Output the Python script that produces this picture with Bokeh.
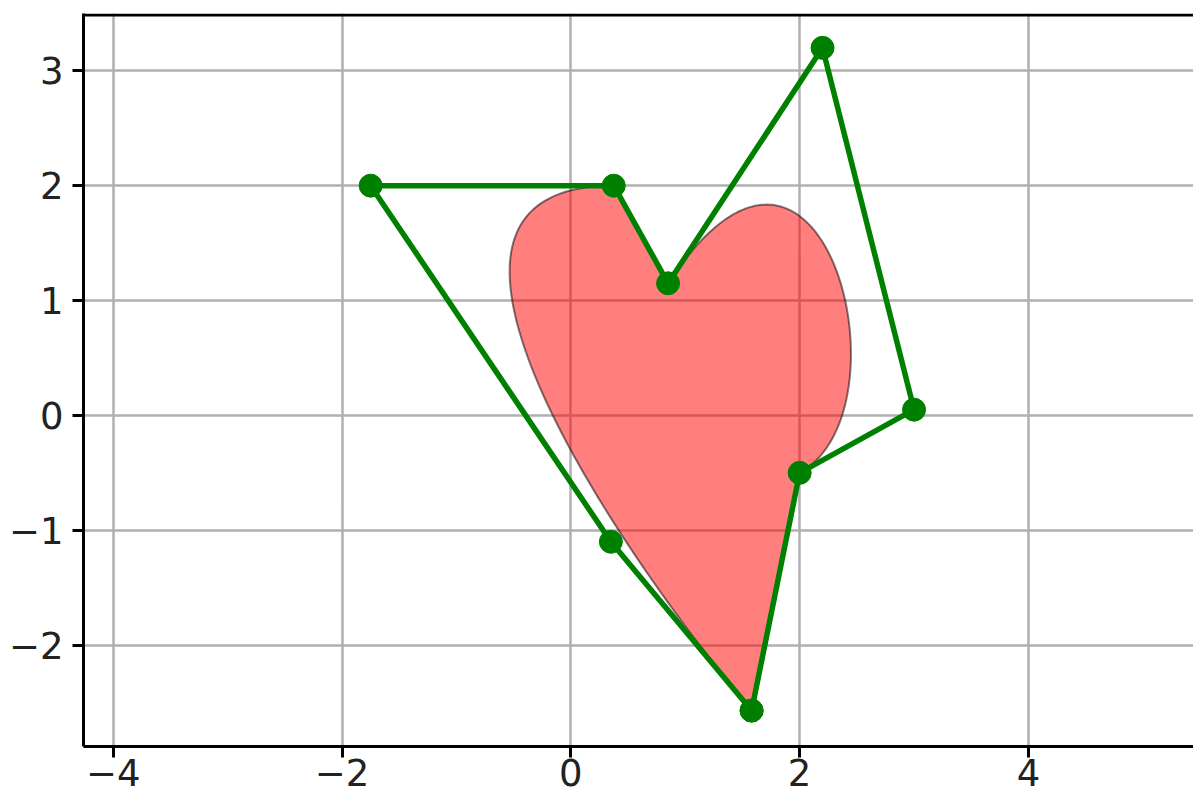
import numpy as np
from bokeh.plotting import figure
from bokeh.models import Range1d, FixedTicker, Span
from bokeh.embed import file_html
from bokeh.resources import INLINE

# Path (heart) definition: vertex codes and control points
path_codes = ["MOVETO", "CURVE4", "CURVE4", "CURVE4", "LINETO",
              "CURVE4", "CURVE4", "CURVE4", "CLOSEPOLY"]
path_x = [1.58, 0.35, -1.75, 0.375, 0.85, 2.2, 3.0, 2.0, 1.58]
path_y = [-2.57, -1.1, 2.0, 2.0, 1.15, 3.2, 0.05, -0.5, -2.57]

x_ticks = [-4, -2, 0, 2, 4]
x_tick_labels = ["\u22124", "\u22122", "0", "2", "4"]
y_ticks = [-2, -1, 0, 1, 2, 3]
y_tick_labels = ["\u22122", "\u22121", "0", "1", "2", "3"]


def build_outline(codes, xs, ys, n=150):
    ox, oy = [], []
    i = 0
    while i < len(codes):
        c = codes[i]
        if c in ("MOVETO", "LINETO"):
            ox.append(xs[i]); oy.append(ys[i]); i += 1
        elif c == "CURVE4":
            x0, y0 = ox[-1], oy[-1]
            x1, y1 = xs[i], ys[i]
            x2, y2 = xs[i + 1], ys[i + 1]
            x3, y3 = xs[i + 2], ys[i + 2]
            t = np.linspace(0, 1, n)[1:]
            mt = 1 - t
            bx = mt**3 * x0 + 3 * mt**2 * t * x1 + 3 * mt * t**2 * x2 + t**3 * x3
            by = mt**3 * y0 + 3 * mt**2 * t * y1 + 3 * mt * t**2 * y2 + t**3 * y3
            ox.extend(bx.tolist()); oy.extend(by.tolist())
            i += 3
        else:  # CLOSEPOLY
            ox.append(ox[0]); oy.append(oy[0]); i += 1
    return ox, oy


hx, hy = build_outline(path_codes, path_x, path_y)

PX = 114.4  # px per unit (x)
PY = 114.86  # px per unit (y)
x0 = -4.26
y_top = 3.499
W, H = 1193, 801
left_b, top_b, bottom_b = 83, 13, 55
frame_w = W - left_b
frame_h = H - top_b - bottom_b

p = figure(width=W, height=H, output_backend="svg", toolbar_location=None,
           x_range=Range1d(x0, x0 + frame_w / PX),
           y_range=Range1d(y_top - frame_h / PY, y_top),
           min_border_left=left_b, min_border_right=0,
           min_border_top=top_b, min_border_bottom=bottom_b)
p.outline_line_color = None
p.background_fill_color = "white"
p.border_fill_color = "white"

# Grid
for g in (p.xgrid, p.ygrid):
    g.grid_line_color = "#b0b0b0"
    g.grid_line_width = 2.5
p.xgrid.ticker = FixedTicker(ticks=x_ticks)
p.ygrid.ticker = FixedTicker(ticks=y_ticks)

# Axes
p.xaxis.ticker = FixedTicker(ticks=x_ticks)
p.yaxis.ticker = FixedTicker(ticks=y_ticks)
p.xaxis.major_label_overrides = {t: l for t, l in zip(x_ticks, x_tick_labels)}
p.yaxis.major_label_overrides = {t: l for t, l in zip(y_ticks, y_tick_labels)}
for ax in (p.xaxis, p.yaxis):
    ax.axis_line_color = "black"
    ax.axis_line_width = 3
    ax.major_tick_line_color = "black"
    ax.major_tick_line_width = 3
    ax.major_tick_out = 11
    ax.major_tick_in = 0
    ax.minor_tick_line_color = None
    ax.major_label_text_font = "DejaVu Sans"
    ax.major_label_text_font_size = "37px"
    ax.major_label_text_color = "#222222"
p.xaxis.major_label_standoff = 1
p.yaxis.major_label_standoff = 9

# top spine
p.add_layout(Span(location=y_top - 1.4 / PY, dimension="width",
                  line_color="black", line_width=3))

# Heart patch
p.patch(hx, hy, fill_color="#ff0000", fill_alpha=0.5,
        line_color="black", line_alpha=0.5, line_width=2)

# Control polygon
p.line(path_x, path_y, line_color="#008000", line_width=5.5)
p.scatter(path_x, path_y, size=23, marker="circle",
          fill_color="#008000", line_color="#008000")

open("out.html", "w").write(file_html(p, INLINE))
